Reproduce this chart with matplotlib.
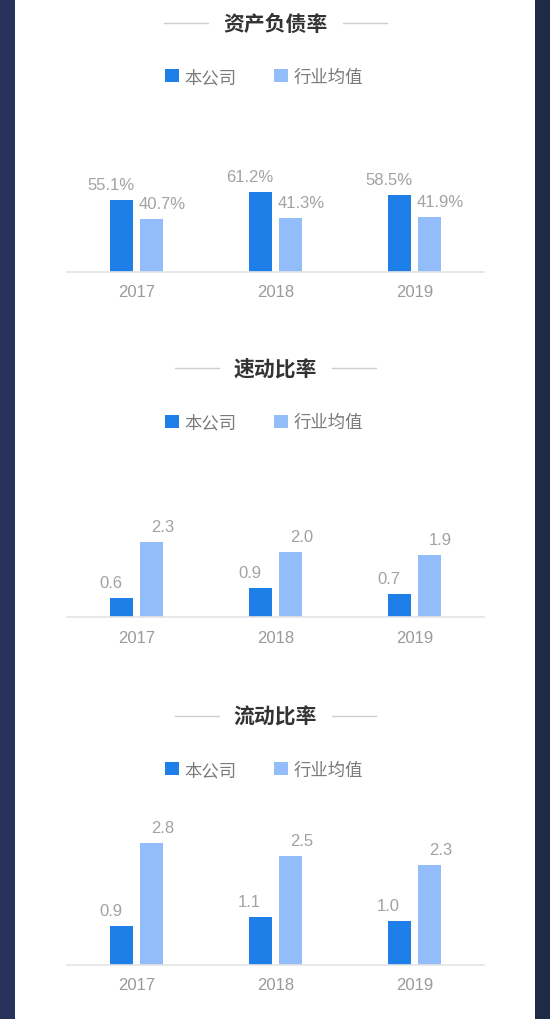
import matplotlib
matplotlib.use("Agg")
import matplotlib.pyplot as plt
from matplotlib.patches import Rectangle
from matplotlib.lines import Line2D

# ---------------- data ----------------
years = ["2017", "2018", "2019"]
series_names = ["本公司", "行业均值"]

debt_title = "资产负债率"
debt_company = [55.1, 61.2, 58.5]
debt_industry = [40.7, 41.3, 41.9]

quick_title = "速动比率"
quick_company = [0.6, 0.9, 0.7]
quick_industry = [2.3, 2.0, 1.9]

current_title = "流动比率"
current_company = [0.9, 1.1, 1.0]
current_industry = [2.8, 2.5, 2.3]

# ---------------- style ----------------
W, H = 550, 1020
DARK = "#1f7fe8"
LIGHT = "#93bdfa"
CJK = ["Noto Sans CJK SC", "DejaVu Sans"]
NUM = ["Liberation Sans", "DejaVu Sans"]
GRAY_TXT = "#a2a2a2"
NUM_SIZE = 12

fig = plt.figure(figsize=(W / 100, H / 100), dpi=100)
fig.patch.set_facecolor("white")


def fx(x):
    return x / W


def fy(y):
    return 1 - y / H


# background frame
fig.add_artist(Rectangle((0, 0), fx(15), 1, transform=fig.transFigure,
                         facecolor="#27315a", edgecolor="none", zorder=0))
fig.add_artist(Rectangle((fx(535), 0), 1 - fx(535), 1, transform=fig.transFigure,
                         facecolor="#1f2a46", edgecolor="none", zorder=0))

charts = [
    (debt_title, debt_company, debt_industry, 100, "{:.1f}%", 273.0),
    (quick_title, quick_company, quick_industry, 4, "{:.1f}", 618.3),
    (current_title, current_company, current_industry, 3, "{:.1f}", 966.0),
]

renderer = fig.canvas.get_renderer()

for title, comp, ind, ymax, fmt, base in charts:
    ax = fig.add_axes([fx(67), fy(base), fx(484) - fx(67), 131 / H])
    ax.set_facecolor("none")
    x = list(range(len(years)))
    bw = 0.164
    off = 0.108
    b1 = ax.bar([i - off for i in x], comp, width=bw, color=DARK,
                label=series_names[0], zorder=2)
    b2 = ax.bar([i + off for i in x], ind, width=bw, color=LIGHT,
                label=series_names[1], zorder=2)
    ax.set_xlim(-0.5, len(years) - 0.5)
    ax.set_ylim(0, ymax)
    for s in ["top", "left", "right"]:
        ax.spines[s].set_visible(False)
    ax.spines["bottom"].set_color("#e4e4e4")
    ax.spines["bottom"].set_linewidth(1.2)
    ax.set_yticks([])
    ax.set_xticks(x, labels=years)
    ax.tick_params(axis="x", length=0, pad=8.8, labelsize=NUM_SIZE, labelcolor="#9a9a9a")
    for lab in ax.get_xticklabels():
        lab.set_family(NUM)

    for i in x:
        ax.annotate(fmt.format(comp[i]), xy=(i - off, comp[i]), xytext=(-11, 8),
                    textcoords="offset pixels", ha="center", va="bottom",
                    fontsize=NUM_SIZE, color=GRAY_TXT, family=NUM)
        ax.annotate(fmt.format(ind[i]), xy=(i + off, ind[i]), xytext=(11, 8),
                    textcoords="offset pixels", ha="center", va="bottom",
                    fontsize=NUM_SIZE, color=GRAY_TXT, family=NUM)

    # title with side lines
    ty = base - 249
    t = fig.text(fx(275.4), fy(ty), title, ha="center", va="center",
                 fontsize=15, fontweight="bold", color="#333333", family=CJK)
    bb = t.get_window_extent(renderer)
    x0, x1 = bb.x0, bb.x1
    gap, ln = 15, 44
    for a, b in [(x0 - gap - ln, x0 - gap), (x1 + gap, x1 + gap + ln)]:
        fig.add_artist(Line2D([a / W, b / W], [fy(ty), fy(ty)], transform=fig.transFigure,
                              color="#cfcfcf", lw=1.0))

    # legend
    leg = ax.legend(handles=[b1, b2], loc="center",
                    bbox_to_anchor=(fx(264), fy(base - 195)),
                    bbox_transform=fig.transFigure, ncol=2, frameon=False,
                    prop={"family": CJK, "size": 12.5},
                    handlelength=0.78, handleheight=0.78, handletextpad=0.3,
                    columnspacing=2.2, borderpad=0, borderaxespad=0)
    for txt in leg.get_texts():
        txt.set_color("#7a7a7a")

fig.savefig("out.png", dpi=100, facecolor=fig.get_facecolor())
